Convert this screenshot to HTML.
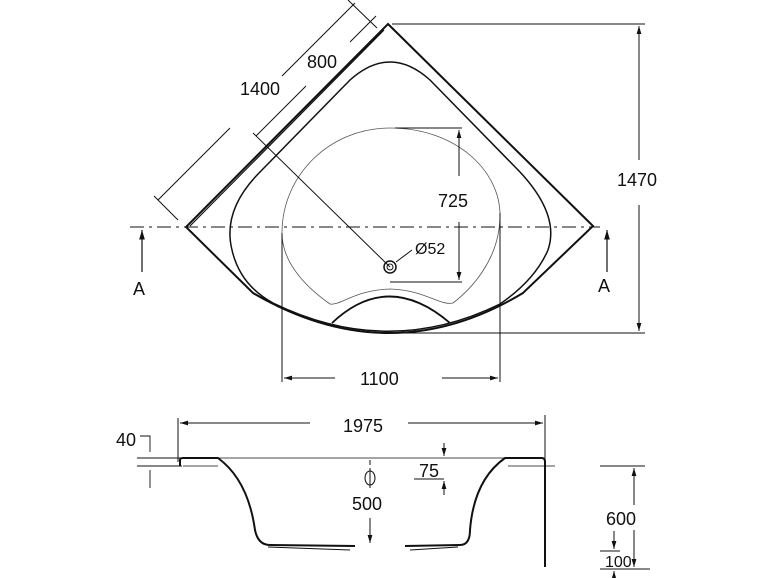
<!DOCTYPE html>
<html><head><meta charset="utf-8"><style>
html,body{margin:0;padding:0;background:#fff;width:770px;height:578px;overflow:hidden}
svg{display:block}
text{font-family:"Liberation Sans",sans-serif;fill:#111}
</style></head><body>
<svg width="770" height="578" viewBox="0 0 770 578" xmlns="http://www.w3.org/2000/svg">
<defs>
<marker id="a" viewBox="0 0 10 10" refX="10" refY="5" markerWidth="8" markerHeight="8" orient="auto-start-reverse"><path d="M0,2 L10,5 L0,8 z" fill="#111"/></marker>
</defs>
<g fill="none" stroke="#111">
<!-- outer shape -->
<path d="M388,24 L593,226 L523,293 Q390,373 253,293 L186,227 Z" stroke-width="2"/>
<path d="M384,30 L190,226" stroke-width="1.2"/>
<!-- inner basin -->
<path d="M390,62 Q410,62 430,80 L520,172 Q560,215 548,250 Q535,280 500,304 Q388,359 273,303 Q240,285 232,250 Q222,210 260,172 L350,80 Q370,62 390,62 Z" stroke-width="1.5"/>
<!-- inner dotted circle -->
<path d="M390,128 C455,128 500,170 500,215 C500,260 470,290 453,303 C440,306 425,290 390,289 C355,290 340,306 330,304 C310,290 282,265 282,233 C282,175 330,128 390,128 Z" stroke-width="0.8" stroke="#555"/>
<!-- seat arc -->
<path d="M332,323 Q388,270 450,323" stroke-width="1.8"/>
<!-- drain -->
<circle cx="390" cy="267" r="6" stroke-width="1.5"/><circle cx="390" cy="267" r="3" stroke-width="1"/>
<path d="M396,262 L412,250" stroke-width="1"/>
<!-- centerline -->
<path d="M130,227 L600,227" stroke-width="1" stroke-dasharray="14,5,3,5"/>
<!-- A arrows -->
<path d="M142,272 L142,230" stroke-width="1.2" marker-end="url(#a)"/>
<path d="M607,272 L607,230" stroke-width="1.2" marker-end="url(#a)"/>
<!-- 1470 -->
<path d="M392,24 L645,24 M390,333 L645,333" stroke-width="1"/>
<path d="M639,160 L639,26" stroke-width="1" marker-end="url(#a)"/>
<path d="M639,205 L639,331" stroke-width="1" marker-end="url(#a)"/>
<!-- 725 -->
<path d="M395,128 L462,128 M390,282 L462,282" stroke-width="1"/>
<path d="M459,176 L459,130" stroke-width="1" marker-end="url(#a)"/>
<path d="M459,222 L459,280" stroke-width="1" marker-end="url(#a)"/>
<!-- 1100 -->
<path d="M282,233 L282,382 M500,213 L500,382" stroke-width="1"/>
<path d="M335,378 L284,378" stroke-width="1" marker-end="url(#a)"/>
<path d="M442,378 L498,378" stroke-width="1" marker-end="url(#a)"/>
<!-- diagonal dims -->
<path d="M154,196 L178,220" stroke-width="1"/>
<path d="M158,200 L230,128 M282,76 L355,3" stroke-width="1"/>
<path d="M253,133 L390,267" stroke-width="1"/>
<path d="M256,136 L306,86 M350,42 L376,16" stroke-width="1"/>
<path d="M348,0 L377,28" stroke-width="1"/>
<!-- section view -->
<path d="M178,418 L178,462 M545,415 L545,462" stroke-width="1"/>
<path d="M310,423 L180,423" stroke-width="1" marker-end="url(#a)"/>
<path d="M408,423 L543,423" stroke-width="1" marker-end="url(#a)"/>
<path d="M218,458 L505,458 M218,466 L183,466 M508,466 L555,466" stroke-width="0.8"/>
<path d="M180,466 L180,460 Q180,458 183,458 L218,458 Q248,480 255,530 Q258,545 270,545 L355,546 M405,546 L460,545 Q470,545 470,530 Q474,480 505,458 L542,458 Q545,458 545,462 L545,567" stroke-width="2"/>
<path d="M268,547 L350,550 M410,550 L458,547" stroke-width="1"/>
<!-- 40 -->
<path d="M140,436 L150,436 L150,452 M150,470 L150,488 M137,458 L182,458 M137,466 L182,466" stroke-width="0.9"/>
<!-- 75 -->
<path d="M444,443 L444,456" stroke-width="1" marker-end="url(#a)"/>
<path d="M444,495 L444,481" stroke-width="1" marker-end="url(#a)"/>
<path d="M414,479 L444,479" stroke-width="1"/>
<!-- 500 -->
<path d="M370,460 L370,465" stroke-width="1"/>
<path d="M370,518 L370,543" stroke-width="1" marker-end="url(#a)"/>
<ellipse cx="370" cy="478" rx="5" ry="7" stroke-width="1"/>
<path d="M370,468 L370,488" stroke-width="1"/>
<!-- 600 / 100 -->
<path d="M600,466 L645,466 M600,569 L650,569 M600,551 L620,551" stroke-width="0.9"/>
<path d="M634,505 L634,468" stroke-width="1" marker-end="url(#a)"/>
<path d="M634,530 L634,567" stroke-width="1" marker-end="url(#a)"/>
<path d="M614,531 L614,549" stroke-width="1" marker-end="url(#a)"/>
<path d="M614,578 L614,571" stroke-width="1" marker-end="url(#a)"/>
</g>
<g font-size="18">
<text x="307" y="68">800</text>
<text x="240" y="95">1400</text>
<text x="617" y="186">1470</text>
<text x="438" y="207">725</text>
<text x="415" y="254" font-size="16">Ø52</text>
<text x="133" y="295">A</text>
<text x="598" y="292">A</text>
<text x="360" y="385">1100</text>
<text x="343" y="432">1975</text>
<text x="116" y="446">40</text>
<text x="419" y="477">75</text>
<text x="352" y="510">500</text>
<text x="606" y="525">600</text>
<text x="605" y="567" font-size="16">100</text>
</g>
</svg>
</body></html>
